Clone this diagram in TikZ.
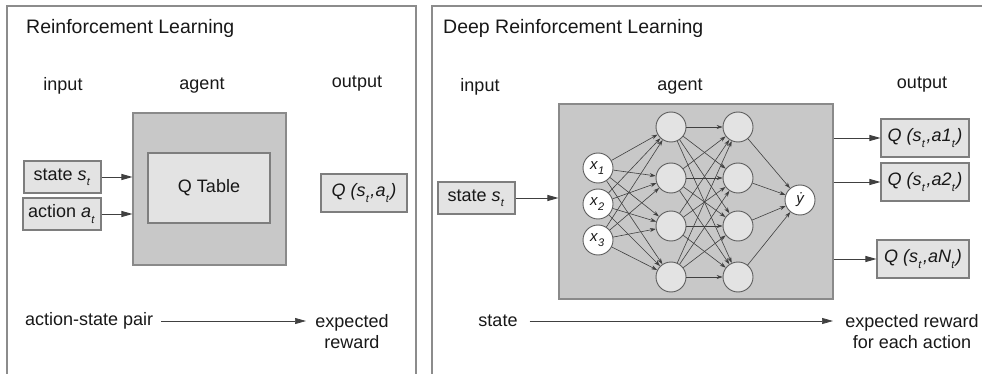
\documentclass[tikz,border=0pt]{standalone}
\usepackage{fontspec}
\setmainfont{Liberation Sans}
\usetikzlibrary{arrows.meta}
\definecolor{agentfill}{HTML}{C8C8C8}
\definecolor{agentdraw}{HTML}{8A8A8A}
\definecolor{boxfill}{HTML}{E3E3E3}
\definecolor{boxdraw}{HTML}{7E7E7E}
\definecolor{linec}{HTML}{404040}
\definecolor{framec}{HTML}{8C8C8C}
\definecolor{txtc}{HTML}{181818}
\newcommand\lowsub[1]{\kern0.3pt\raisebox{-0.55ex}{\fontsize{11}{12}\selectfont\itshape #1}\kern1.6pt}
\begin{document}
\begin{tikzpicture}[x=1pt,y=-1pt,
  frame/.style={draw=framec,line width=1.3pt},
  txt/.style={text=txtc,font=\fontsize{18}{21}\selectfont,inner sep=2pt,align=center},
  ttl/.style={text=txtc,font=\fontsize{19.5}{23}\selectfont,inner sep=0pt,anchor=west},
  box/.style={draw=boxdraw,fill=boxfill,line width=1.1pt,inner sep=0pt,text=txtc,
     font=\fontsize{18}{21}\selectfont},
  agentbox/.style={draw=agentdraw,fill=agentfill,line width=1.1pt,inner sep=0pt},
  neuron/.style={circle,draw=linec!85,line width=0.9pt,fill=boxfill,minimum size=30pt,inner sep=0pt,
     text=txtc,font=\fontsize{15}{17}\selectfont\itshape},
  inneuron/.style={neuron,fill=white},
  arr/.style={draw=linec,line width=0.9pt,-{Triangle[length=11pt,width=6pt]}},
  narr/.style={draw=linec,line width=0.6pt,-{Stealth[length=6pt,width=4pt]}},
]
\useasboundingbox (0,0) rectangle (982,374);
% frames
\draw[frame] (7,374) -- (7,6) -- (416,6) -- (416,374);
\draw[frame] (432,374) -- (432,6) -- (982,6);

% ---------------- left panel ----------------
\node[ttl] (titleL) at (26,28) {Reinforcement Learning};
\node[txt] (inL) at (63,86) {input};
\node[txt] (agL) at (202,86) {agent};
\node[txt] (outL) at (357,84) {output};

\node[agentbox,minimum width=153pt,minimum height=152pt] (agentL) at (209.5,189) {};
\node[box,minimum width=122pt,minimum height=70pt] (qtable) at (209,188) {Q Table};
\node[box,minimum width=77pt,minimum height=32pt] (stateL) at (62.5,177) {state {\itshape s\lowsub{t}}};
\node[box,minimum width=78pt,minimum height=32pt] (actionL) at (62,214) {action {\itshape a\lowsub{t}}};
\node[box,minimum width=86pt,minimum height=38pt] (qL) at (364,193) {\itshape Q (s\lowsub{t},a\lowsub{t})};
\draw[arr] (stateL.east) -- (stateL.east -| agentL.west);
\draw[arr] (actionL.east) -- (actionL.east -| agentL.west);

\node[txt,anchor=west] (pairL) at (23,321) {action-state pair};
\node[txt] (expL) at (352,331.5) {expected\\reward};
\coordinate (pairEndL) at (306,321);
\draw[arr,line width=0.7pt,shorten <=6pt] (pairL.east) -- (pairEndL);

% ---------------- right panel ----------------
\node[ttl] (titleR) at (443,28) {Deep Reinforcement Learning};
\node[txt] (inR) at (480,87) {input};
\node[txt] (agR) at (680,87) {agent};
\node[txt] (outR) at (922,85) {output};

\node[agentbox,minimum width=274pt,minimum height=195pt] (agentR) at (696,201.5) {};
\node[box,minimum width=77pt,minimum height=32pt] (stateR) at (476.5,198) {state {\itshape s\lowsub{t}}};
\draw[arr] (stateR.east) -- (stateR.east -| agentR.west);

% network
\node[inneuron] (x1) at (598,168) {x\lowsub{1}};
\node[inneuron] (x2) at (598,204) {x\lowsub{2}};
\node[inneuron] (x3) at (598,240) {x\lowsub{3}};
\foreach \i/\y in {1/127,2/178,3/226,4/277}{
  \node[neuron] (h\i) at (671,\y) {};
  \node[neuron] (g\i) at (738,\y) {};
}
\node[inneuron] (yout) at (800,200) {\.{y}};
\foreach \a in {1,2,3}{\foreach \b in {1,2,3,4}{\draw[narr] (x\a) -- (h\b);}}
\foreach \a in {1,2,3,4}{\foreach \b in {1,2,3,4}{\draw[narr] (h\a) -- (g\b);}}
\foreach \a in {1,2,3,4}{\draw[narr] (g\a) -- (yout);}

% outputs
\node[box,minimum width=88pt,minimum height=38pt] (q1) at (925,138) {\itshape Q (s\lowsub{t},a1\lowsub{t})};
\node[box,minimum width=88pt,minimum height=38pt] (q2) at (925,182) {\itshape Q (s\lowsub{t},a2\lowsub{t})};
\node[box,minimum width=92pt,minimum height=38pt] (qN) at (923,259) {\itshape Q (s\lowsub{t},aN\lowsub{t})};
\draw[arr] (q1.west -| agentR.east) -- (q1.west);
\draw[arr] (q2.west -| agentR.east) -- (q2.west);
\draw[arr] (qN.west -| agentR.east) -- (qN.west);

\node[txt] (stR) at (498,321) {state};
\node[txt] (expR) at (912,331.5) {expected reward\\for each action};
\coordinate (stEndR) at (833,321);
\draw[arr,line width=0.7pt,shorten <=10pt] (stR.east) -- (stEndR);
\end{tikzpicture}
\end{document}
